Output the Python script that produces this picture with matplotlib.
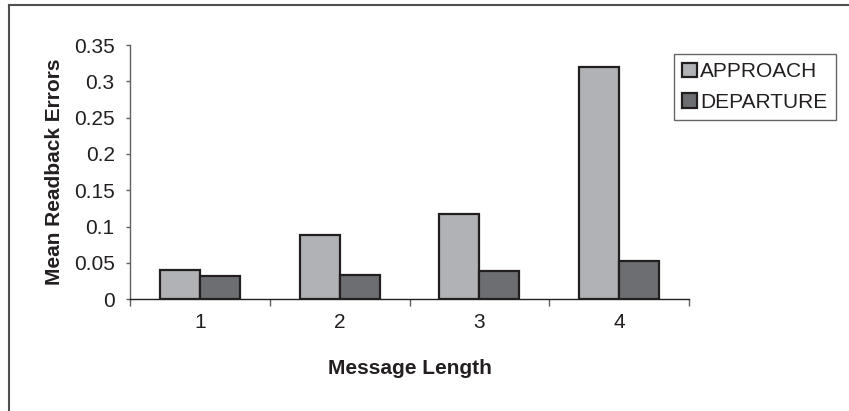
import matplotlib as mpl
mpl.use('Agg')
import matplotlib.pyplot as plt
import numpy as np
from matplotlib.lines import Line2D

plt.rcParams['font.family'] = ['Liberation Sans', 'DejaVu Sans']

# data
lengths = ['1', '2', '3', '4']
approach = [0.040, 0.089, 0.117, 0.320]
departure = [0.032, 0.034, 0.039, 0.053]
yticks = [0, 0.05, 0.1, 0.15, 0.2, 0.25, 0.3, 0.35]
ytick_labels = ['0', '0.05', '0.1', '0.15', '0.2', '0.25', '0.3', '0.35']

W, H = 849, 411
fig = plt.figure(figsize=(W / 100, H / 100), dpi=100)
ax = fig.add_axes([130 / W, 1 - 299.3 / H, (689 - 130) / W, (299.3 - 45) / H])

x = np.arange(len(lengths))
w = 1 / 3.5
ax.bar(x - w / 2, approach, w, color='#b1b2b5', edgecolor='#231f20', linewidth=1.6, label='APPROACH')
ax.bar(x + w / 2, departure, w, color='#6d6e71', edgecolor='#231f20', linewidth=1.6, label='DEPARTURE')

ax.set_xlim(-0.5, len(lengths) - 0.5)
ax.set_ylim(0, 0.35)

# frame: only left and bottom axis lines
for side in ['top', 'right']:
    ax.spines[side].set_visible(False)
ax.spines['left'].set_color('#606060')
ax.spines['bottom'].set_color('#231f20')
ax.spines['left'].set_linewidth(1.0)
ax.spines['bottom'].set_linewidth(1.0)

ax.set_yticks(yticks)
ax.set_yticklabels(ytick_labels)
ax.tick_params(axis='y', length=3, width=1, color='#606060', pad=8, labelsize=15, labelcolor='#231f20')

# category labels at centres, tick marks at boundaries
ax.set_xticks(x)
ax.set_xticklabels(lengths)
ax.set_xticks(np.arange(len(lengths) + 1) - 0.5, minor=True)
ax.tick_params(axis='x', which='major', length=0, pad=10, labelsize=15, labelcolor='#231f20')
ax.tick_params(axis='x', which='minor', length=5, width=1, color='#606060')

ax.set_xlabel('Message Length', fontsize=15, fontweight='bold', color='#231f20', labelpad=19)
ax.set_ylabel('Mean Readback Errors', fontsize=15, fontweight='bold', color='#231f20', labelpad=7)

leg = fig.legend(loc='upper left', bbox_to_anchor=(674 / W, 1 - 54 / H), bbox_transform=fig.transFigure,
                 fontsize=15, frameon=True, fancybox=False, borderaxespad=0,
                 handlelength=0.7, handleheight=0.7, handletextpad=0.15,
                 borderpad=0.4, labelspacing=0.55)
leg.get_frame().set_edgecolor('#404040')
leg.get_frame().set_linewidth(1.0)
for t in leg.get_texts():
    t.set_color('#231f20')

# outer border (left and top only, as cropped)
fig.add_artist(Line2D([9 / W, 9 / W], [0, 1 - 5.5 / H], transform=fig.transFigure, color='#505050', lw=1.5))
fig.add_artist(Line2D([9 / W, 1], [1 - 5.5 / H, 1 - 5.5 / H], transform=fig.transFigure, color='#505050', lw=1.5))

fig.savefig('out.png', dpi=100)
plt.close(fig)
